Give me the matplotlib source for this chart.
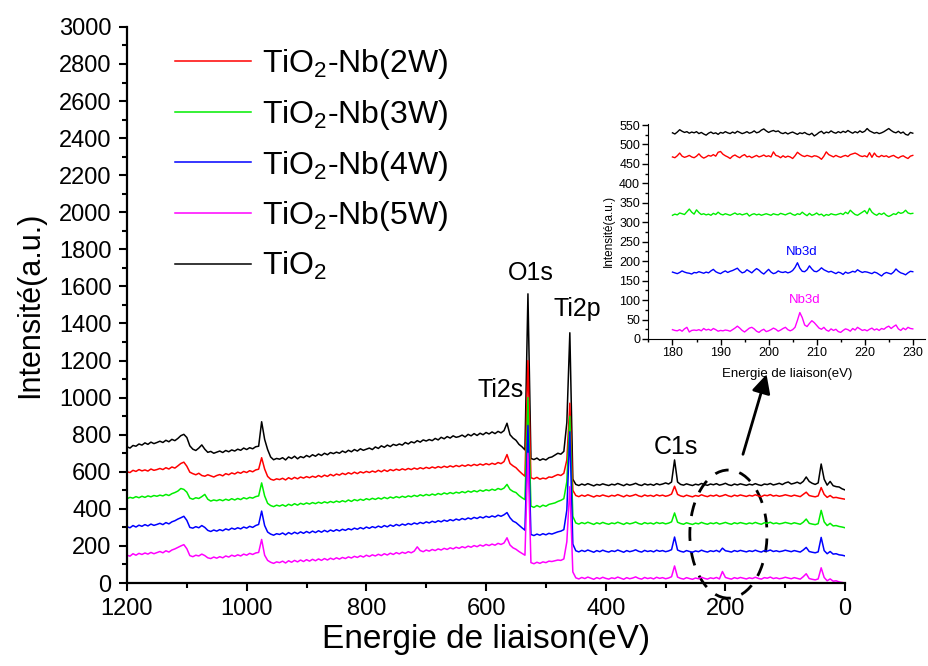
import numpy as np
import matplotlib.pyplot as plt
from matplotlib.patches import Ellipse
from matplotlib.ticker import MultipleLocator

plt.rcParams['font.family'] = ['Liberation Sans', 'DejaVu Sans']
plt.rcParams['mathtext.fontset'] = 'custom'
plt.rcParams['mathtext.rm'] = 'Liberation Sans'
plt.rcParams['mathtext.it'] = 'Liberation Sans:italic'
plt.rcParams['mathtext.bf'] = 'Liberation Sans:bold'

# survey spectra, binding energy 1200 -> 0 eV, step 5 eV
energy = list(range(1200, -5, -5))

tio2 = [
    735, 728, 742, 738, 750, 744, 756, 748, 760, 752, 758,
    765, 758, 770, 762, 775, 768, 780, 795, 802,
    785, 740, 722, 715, 728, 745, 722, 705, 710, 700, 706,
    712, 704, 715, 708, 718, 712, 722, 716, 728, 720, 730, 724, 735, 738,
    870,
    775, 720, 680, 665, 672,
    668, 676, 664, 680, 672, 684, 670, 682, 676, 688,
    680, 692, 684, 696, 688, 700, 692, 704, 698, 706,
    700, 712, 704, 716, 708, 720, 712, 724, 716, 722,
    728, 720, 734, 726, 740, 732, 744, 736, 748, 742,
    750, 744, 758, 750, 762, 756, 768, 760, 772, 766,
    774, 768, 780, 772, 786, 778, 790, 782, 794, 786,
    790, 798, 788, 802, 794, 806, 796, 808, 800, 812,
    804, 815, 806, 818, 810, 822,
    862,
    800, 782, 770, 748, 735, 718,
    1560,
    672, 666, 674, 662, 670, 664, 676, 680,
    690, 700, 695, 710,
    866, 1350, 560,
    532, 526, 534, 528, 536, 530, 524, 532, 528, 535, 530,
    526, 533, 529, 537, 531, 525, 534, 528, 532, 538,
    530, 526, 535, 529, 533, 527, 536, 530, 534, 540,
    534, 545, 664,
    545, 532, 528, 535, 530, 526, 533, 529, 537, 531, 527, 534, 530, 536, 528, 532, 538,
    530, 526, 534, 529, 535, 531, 527, 533, 529, 536,
    530, 526, 534, 531, 537, 529, 533, 538, 531, 540,
    545, 534, 538, 544, 536, 548,
    572,
    548, 538, 532, 540,
    642,
    560, 528, 548, 525, 520, 518, 508, 502,
]

nb2w = [
    600, 596, 608, 602, 612, 605, 610, 604, 615, 608, 612,
    618, 612, 622, 615, 626, 620, 632, 645, 652,
    630, 598, 590, 584, 592, 580, 576, 584, 578, 572, 580,
    585, 578, 590, 584, 594, 588, 598, 592, 602, 596, 606, 600, 610, 614,
    676,
    615, 575, 560, 555, 562,
    558, 565, 556, 568, 560, 570, 562, 572, 566, 574,
    568, 576, 570, 580, 572, 582, 575, 586, 578, 588,
    582, 592, 585, 595, 588, 598, 590, 600, 594, 602,
    596, 604, 598, 608, 600, 610, 602, 612, 606, 614,
    608, 616, 610, 618, 612, 620, 614, 622, 616, 624,
    618, 626, 620, 628, 622, 630, 624, 632, 626, 634,
    628, 636, 630, 638, 632, 640, 634, 642, 636, 644,
    638, 646, 640, 650, 644, 655,
    693,
    645, 632, 622, 605, 590, 576,
    1200,
    568, 562, 570, 560, 566, 562, 572, 570,
    578, 585, 580, 592,
    664, 970, 500,
    472, 466, 474, 468, 476, 470, 464, 472, 468, 475, 470,
    466, 473, 469, 477, 471, 465, 474, 468, 472, 478,
    470, 466, 475, 469, 473, 467, 476, 470, 474, 468,
    472, 480, 522,
    478, 470, 466, 474, 469, 465, 472, 468, 476, 470, 466, 473, 469, 475, 467, 471, 477,
    470, 466, 474, 469, 475, 471, 467, 473, 469, 476,
    470, 466, 474, 471, 477, 469, 473, 468, 471, 476,
    472, 468, 474, 470, 466, 478,
    490,
    472, 468, 465, 470,
    515,
    478, 462, 472, 460, 462, 458, 455, 452,
]

nb3w = [
    455, 462, 458, 466, 460, 468, 462, 470, 465, 472, 468,
    474, 470, 478, 472, 482, 488, 496, 510, 505,
    490, 458, 452, 460, 456, 466, 478, 452, 442, 448, 444,
    450, 444, 452, 446, 455, 448, 456, 450, 460, 454, 462, 458, 466, 470,
    540,
    470, 430, 418, 412, 420,
    415, 422, 414, 425, 418, 428, 420, 430, 424, 432,
    426, 434, 428, 436, 430, 438, 432, 440, 434, 442,
    436, 444, 438, 448, 440, 450, 444, 452, 446, 455,
    449, 457, 451, 459, 453, 462, 455, 464, 458, 466,
    460, 468, 462, 470, 465, 473, 467, 476, 470, 478,
    472, 480, 474, 483, 477, 486, 480, 488, 482, 490,
    485, 493, 487, 496, 490, 498, 492, 501, 495, 503,
    498, 506, 500, 510, 504, 512,
    532,
    505, 494, 488, 472, 460, 450,
    1000,
    415, 408, 418, 410, 420, 414, 424, 428,
    432, 440, 446, 455,
    547, 900, 360,
    324, 318, 326, 320, 328, 322, 316, 325, 319, 327, 321,
    317, 324, 320, 328, 322, 316, 325, 319, 323, 329,
    321, 317, 326, 320, 324, 318, 327, 321, 325, 319,
    323, 330, 378,
    328, 321, 317, 325, 320, 316, 323, 319, 327, 321, 317, 324, 320, 326, 318, 322, 327,
    321, 317, 325, 320, 326, 322, 318, 324, 320, 327,
    321, 317, 325, 322, 328, 320, 324, 319, 322, 327,
    323, 319, 325, 321, 317, 328,
    345,
    322, 318, 315, 320,
    392,
    330, 310, 322, 308, 310, 305, 302, 298,
]

nb4w = [
    304, 298, 310, 302, 312, 306, 315, 308, 318, 311, 316,
    322, 315, 326, 319, 330, 336, 345, 352, 360,
    338, 300, 296, 304, 298, 310, 300, 284, 278, 286, 280,
    288, 282, 292, 286, 296, 290, 298, 292, 302, 296, 306, 300, 310, 316,
    388,
    310, 275, 264, 258, 266,
    262, 270, 260, 272, 264, 274, 266, 276, 268, 278,
    270, 280, 272, 282, 274, 284, 276, 286, 279, 288,
    281, 290, 284, 293, 287, 296, 290, 299, 292, 302,
    295, 304, 298, 307, 300, 310, 303, 313, 306, 316,
    309, 318, 312, 321, 315, 324, 318, 327, 321, 330,
    324, 333, 327, 336, 330, 339, 333, 342, 336, 345,
    339, 348, 342, 351, 345, 354, 348, 357, 351, 360,
    354, 362, 356, 366, 360, 368,
    380,
    352, 334, 326, 312, 298, 285,
    850,
    262, 256, 264, 258, 266, 260, 268, 264,
    270, 276, 280, 288,
    394, 816, 210,
    174, 168, 176, 170, 178, 172, 166, 175, 169, 177, 171,
    167, 174, 170, 178, 172, 166, 175, 169, 173, 179,
    171, 167, 176, 170, 174, 168, 177, 171, 175, 169,
    173, 180, 248,
    178, 171, 167, 175, 170, 166, 173, 169, 177, 171, 167, 174, 170, 176, 168, 188, 174,
    171, 167, 175, 170, 176, 172, 168, 174, 170, 177,
    171, 167, 175, 172, 178, 170, 174, 169, 172, 177,
    173, 169, 175, 171, 167, 178,
    192,
    170, 166, 163, 168,
    246,
    175, 158, 170, 156, 158, 152, 150, 146,
]

nb5w = [
    150, 145, 158, 150, 160, 154, 162, 156, 165, 158, 164,
    170, 163, 174, 167, 178, 184, 192, 200, 207,
    185, 148, 142, 150, 146, 156, 148, 136, 132, 140, 134,
    142, 136, 146, 140, 150, 144, 152, 146, 156, 150, 160, 154, 162, 165,
    235,
    150, 122, 112, 106, 114,
    110, 118, 108, 120, 112, 122, 114, 124, 116, 126,
    118, 128, 120, 130, 122, 132, 124, 134, 127, 136,
    129, 138, 132, 141, 135, 144, 138, 147, 140, 150,
    143, 152, 146, 155, 148, 158, 151, 161, 154, 164,
    157, 166, 160, 169, 163, 172, 195, 175, 169, 178,
    172, 181, 175, 184, 178, 187, 181, 190, 184, 193,
    187, 196, 190, 199, 193, 202, 196, 205, 199, 208,
    202, 210, 204, 214, 208, 216,
    244,
    205, 190, 182, 170, 160, 150,
    700,
    110, 104, 112, 106, 114, 110, 118, 116,
    120, 124, 122, 130,
    223, 520, 60,
    28, 22, 30, 24, 32, 26, 20, 29, 23, 31, 25,
    21, 28, 24, 32, 26, 20, 29, 23, 27, 33,
    25, 21, 30, 24, 28, 22, 31, 25, 29, 23,
    27, 34, 92,
    32, 25, 21, 29, 24, 20, 27, 23, 31, 25, 21, 28, 24, 30, 22, 62, 30,
    25, 21, 29, 24, 30, 26, 22, 28, 24, 31,
    25, 21, 29, 26, 32, 24, 28, 23, 26, 31,
    27, 23, 29, 25, 21, 34,
    50,
    24, 20, 17, 22,
    82,
    30, 12, 22, 10, 12, 6, 3, 0,
]

# zoom on the Nb3d region, 180 -> 230 eV, step 0.5 eV
energy_zoom = np.arange(180, 230.5, 0.5)

tio2_zoom = [
    530, 527, 532, 538, 534, 531, 533, 529, 532, 530,
    533, 528, 531, 527, 524, 529, 532, 528, 530, 526,
    531, 529, 533, 530, 528, 532, 529, 534, 531, 528,
    530, 533, 529, 531, 535, 530, 532, 537, 540, 535,
    531, 534, 536, 533, 535, 530, 528, 531, 527, 530,
    532, 529, 526, 530, 528, 531, 527, 525, 529, 522,
    526, 531, 534, 528, 532, 530, 535, 531, 529, 533,
    530, 534, 531, 536, 532, 529, 533, 530, 535, 531,
    534, 541, 535, 532, 529, 531, 528, 530, 533, 537,
    541, 536, 532, 530, 534, 529, 532, 526, 524, 531,
    529,
]
nb2w_zoom = [
    468, 466, 471, 478, 470, 467, 469, 472, 468, 466,
    470, 476, 469, 465, 468, 472, 470, 474, 470, 480,
    482, 475, 471, 468, 464, 470, 473, 469, 466, 471,
    474, 468, 470, 466, 469, 472, 468, 470, 473, 469,
    471, 468, 481, 472, 470, 466, 471, 467, 470, 468,
    464, 471, 480, 475, 471, 469, 472, 470, 468, 471,
    470, 467, 462, 470, 481, 474, 471, 468, 472, 469,
    467, 470, 472, 469, 474, 476, 478, 475, 471, 469,
    471, 468, 479, 467, 478, 470, 468, 472, 469, 471,
    467, 470, 472, 468, 465, 469, 471, 467, 464, 470,
    472,
]
nb3w_zoom = [
    318, 321, 319, 324, 322, 320, 327, 334, 326, 321,
    332, 325, 320, 322, 319, 321, 318, 323, 320, 326,
    321, 319, 322, 320, 318, 321, 324, 320, 322, 319,
    321, 323, 316, 320, 322, 319, 321, 318, 320, 322,
    320, 318, 322, 320, 319, 323, 321, 319, 322, 324,
    320, 318, 322, 320, 326, 321, 317, 323, 318, 320,
    324, 319, 321, 316, 320, 318, 322, 320, 319, 321,
    323, 320, 326, 322, 331, 325, 320, 318, 322, 326,
    330, 322, 336, 326, 321, 318, 323, 320, 324, 318,
    315, 318, 322, 320, 326, 323, 325, 331, 324, 322,
    323,
]
nb4w_zoom = [
    172, 170, 168, 171, 175, 172, 170, 169, 167, 171,
    170, 173, 171, 169, 172, 170, 175, 179, 173, 170,
    168, 172, 175, 171, 174, 176, 179, 182, 175, 170,
    172, 178, 174, 170, 176, 181, 177, 171, 167, 173,
    179, 172, 168, 170, 175, 172, 171, 173, 170, 172,
    176, 184, 196, 182, 174, 173, 178, 188, 180, 174,
    173, 177, 183, 178, 175, 172, 174, 171, 168, 172,
    170, 166, 172, 169, 171, 174, 172, 178, 174, 171,
    173, 172, 170, 168, 172, 170, 166, 162, 168, 171,
    169, 167, 172, 180, 174, 170, 168, 165, 170, 174,
    173,
]
nb5w_zoom = [
    24, 22, 21, 24, 20, 26, 30, 18, 22, 23,
    22, 24, 21, 27, 23, 25, 22, 27, 24, 20,
    22, 21, 23, 22, 20, 24, 28, 33, 28, 22,
    18, 23, 28, 30, 26, 20, 17, 22, 25, 19,
    21, 24, 28, 25, 20, 23, 27, 30, 24, 21,
    24, 30, 48, 68, 55, 36, 32, 40, 47, 42,
    35, 28, 25, 30, 23, 20, 26, 22, 25, 19,
    17, 22, 26, 24, 20, 27, 23, 30, 26, 22,
    24, 21, 25, 28, 23, 26, 22, 27, 25, 30,
    33, 27, 32, 36, 26, 22, 28, 24, 30, 27,
    26,
]

labels = ['TiO$_2$-Nb(2W)', 'TiO$_2$-Nb(3W)', 'TiO$_2$-Nb(4W)',
          'TiO$_2$-Nb(5W)', 'TiO$_2$']

fig = plt.figure(figsize=(9.29, 6.66), dpi=100)
ax = fig.add_axes([0.1367, 0.1246, 0.773, 0.835])

l0, = ax.plot(energy, tio2, color='black', lw=1.1)
l1, = ax.plot(energy, nb2w, color='#ff0000', lw=1.1)
l2, = ax.plot(energy, nb3w, color='#00ee00', lw=1.1)
l3, = ax.plot(energy, nb4w, color='#0000ff', lw=1.1)
l4, = ax.plot(energy, nb5w, color='#ff00ff', lw=1.1)

ax.set_xlim(1200, 0)
ax.set_ylim(0, 3000)
ax.spines['top'].set_visible(False)
ax.spines['right'].set_visible(False)
ax.spines['left'].set_linewidth(1.6)
ax.spines['bottom'].set_linewidth(1.6)
ax.xaxis.set_major_locator(MultipleLocator(200))
ax.xaxis.set_minor_locator(MultipleLocator(100))
ax.yaxis.set_major_locator(MultipleLocator(200))
ax.yaxis.set_minor_locator(MultipleLocator(100))
ax.tick_params(which='both', direction='out', width=1.5, labelsize=17, pad=5)
ax.tick_params(which='major', length=6)
ax.tick_params(which='minor', length=3.5)
ax.set_xlabel('Energie de liaison(eV)', fontsize=24, labelpad=3)
ax.set_ylabel('Intensité(a.u.)', fontsize=22, labelpad=10)

ax.legend([l1, l2, l3, l4, l0], labels, loc='upper left',
          bbox_to_anchor=(0.188, 0.929), bbox_transform=fig.transFigure,
          frameon=False, fontsize=23, handlelength=2.4, handletextpad=0.35,
          labelspacing=0.52, borderpad=0, borderaxespad=0)

ax.text(526, 1673, 'O1s', fontsize=18, ha='center', va='center')
ax.text(448, 1478, 'Ti2p', fontsize=18, ha='center', va='center')
ax.text(575, 1041, 'Ti2s', fontsize=18, ha='center', va='center')
ax.text(282, 734, 'C1s', fontsize=18, ha='center', va='center')

ax.add_patch(Ellipse((195, 264), width=129, height=691, fill=False,
                     ls=(0, (5, 4)), lw=2, color='black', clip_on=False))
ax.annotate('', xy=(130, 1140), xytext=(172, 680),
            arrowprops=dict(arrowstyle='-|>', lw=2, color='black',
                            mutation_scale=28))

# inset
axin = fig.add_axes([0.698, 0.491, 0.298, 0.323])
axin.plot(energy_zoom, tio2_zoom, color='black', lw=1)
axin.plot(energy_zoom, nb2w_zoom, color='#ff0000', lw=1)
axin.plot(energy_zoom, nb3w_zoom, color='#00ee00', lw=1)
axin.plot(energy_zoom, nb4w_zoom, color='#0000ff', lw=1)
axin.plot(energy_zoom, nb5w_zoom, color='#ff00ff', lw=1)
axin.set_xlim(175, 232.6)
axin.set_ylim(0, 553)
axin.spines['top'].set_visible(False)
axin.spines['right'].set_visible(False)
axin.xaxis.set_major_locator(MultipleLocator(10))
axin.xaxis.set_minor_locator(MultipleLocator(5))
axin.yaxis.set_major_locator(MultipleLocator(50))
axin.yaxis.set_minor_locator(MultipleLocator(25))
axin.tick_params(which='both', direction='out', width=1, labelsize=9, pad=2)
axin.tick_params(which='major', length=4)
axin.tick_params(which='minor', length=2)
axin.set_xlabel('Energie de liaison(eV)', fontsize=9.5, labelpad=6)
axin.set_ylabel('Intensité(a.u.)', fontsize=8.5, labelpad=3)
axin.text(206.8, 224, 'Nb3d', color='#0000ff', fontsize=9.5, ha='center', va='center')
axin.text(207.6, 100, 'Nb3d', color='#ff00ff', fontsize=9.5, ha='center', va='center')

fig.savefig('out.png', dpi=100)
